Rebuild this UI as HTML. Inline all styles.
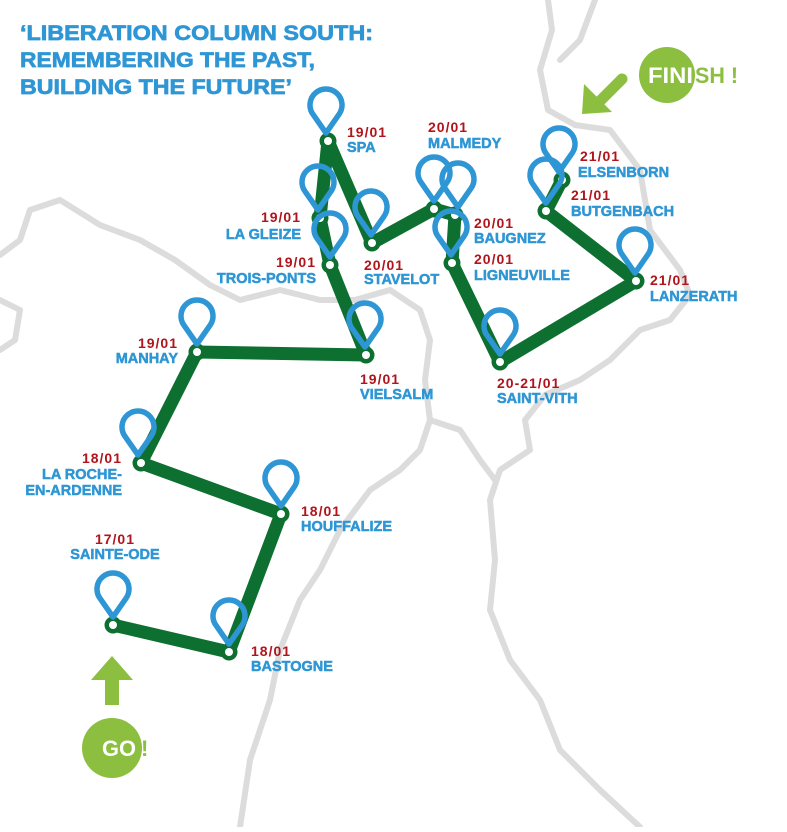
<!DOCTYPE html>
<html><head><meta charset="utf-8"><style>
body{margin:0;background:#fff;width:787px;height:827px;overflow:hidden}
text{font-family:"Liberation Sans",sans-serif;font-weight:bold}
.d{fill:#b0141c;font-size:14px;letter-spacing:1px}
.n{fill:#2e96d4;font-size:14.5px;stroke:#2e96d4;stroke-width:0.5}
</style></head><body>
<svg width="787" height="827" viewBox="0 0 787 827" xmlns="http://www.w3.org/2000/svg">
<defs>
<path id="pin" d="M0,-8 L-13.1,-26.8 A16,16 0 1 1 13.1,-26.8 Z" fill="none" stroke="#2e96d4" stroke-width="5.5" stroke-linejoin="round"/>
<g id="nd"><circle r="8.5" fill="#0e7030"/><circle r="4" fill="#fff"/></g>
</defs>
<g fill="none" stroke="#dcdcdc" stroke-width="6" stroke-linejoin="round" stroke-linecap="round">
<path d="M548,0 L552,30 L540,70 L548,110 L575,125 L610,130 L640,170 L650,230 L680,270 L690,295 L670,320 L640,330 L610,360 L580,380 L545,395 L525,420 L530,450 L500,470 L490,500 L495,560 L490,610 L510,660 L540,700 L560,750 L600,790 L640,827"/>
<path d="M595,0 L580,40 L560,60"/>
<path d="M0,255 L20,240 L30,210 L60,200 L100,225 L140,240 L175,260 L210,285 L240,300 L280,290 L320,300 L355,300 L390,290 L420,310 L430,340 L425,380 L430,420 L420,450 L400,470 L370,490 L340,530 L320,570 L300,600 L280,650 L270,700 L250,760 L240,827"/>
<path d="M430,420 L460,430 L480,460 L495,480"/>
<path d="M0,300 L20,310 L15,340 L0,350"/>
</g>
<g fill="none" stroke="#0e7030" stroke-width="13" stroke-linejoin="round" stroke-linecap="round">
<polyline points="113,625 229,652 281,514 141,463 197,352 366,355 330,265 320,218 328,141 372,243 434,209 455,215 452,263 500,362 636,281 546,211 562,180"/>
</g>
<g>
<use href="#nd" x="113" y="625"/><use href="#nd" x="229" y="652"/><use href="#nd" x="281" y="514"/><use href="#nd" x="141" y="463"/><use href="#nd" x="197" y="352"/><use href="#nd" x="366" y="355"/><use href="#nd" x="330" y="265"/><use href="#nd" x="320" y="218"/><use href="#nd" x="328" y="141"/><use href="#nd" x="372" y="243"/><use href="#nd" x="434" y="209"/><use href="#nd" x="455" y="215"/><use href="#nd" x="452" y="263"/><use href="#nd" x="500" y="362"/><use href="#nd" x="636" y="281"/><use href="#nd" x="546" y="211"/><use href="#nd" x="562" y="180"/>
</g>
<g>
<use href="#pin" x="113" y="625"/><use href="#pin" x="229" y="652"/><use href="#pin" x="281" y="514"/><use href="#pin" x="138" y="463"/><use href="#pin" x="197" y="352"/><use href="#pin" x="365" y="355"/><use href="#pin" x="330" y="265"/><use href="#pin" x="318" y="218"/><use href="#pin" x="326" y="141"/><use href="#pin" x="371" y="243"/><use href="#pin" x="434" y="209"/><use href="#pin" x="458" y="215"/><use href="#pin" x="451" y="263"/><use href="#pin" x="500" y="362"/><use href="#pin" x="635" y="281"/><use href="#pin" x="546" y="211"/><use href="#pin" x="559" y="180"/>
</g>
<g fill="#2e96d4" stroke="#2e96d4" stroke-width="0.7" style="font-size:21.5px" lengthAdjust="spacingAndGlyphs">
<text x="20" y="40" textLength="353" lengthAdjust="spacingAndGlyphs">‘LIBERATION COLUMN SOUTH:</text>
<text x="20" y="67" textLength="295" lengthAdjust="spacingAndGlyphs">REMEMBERING THE PAST,</text>
<text x="20" y="94" textLength="272" lengthAdjust="spacingAndGlyphs">BUILDING THE FUTURE’</text>
</g>
<text class="d" x="347" y="137">19/01</text><text class="n" x="347" y="152">SPA</text>
<text class="d" x="428" y="132">20/01</text><text class="n" x="428" y="148">MALMEDY</text>
<text class="d" x="580" y="161">21/01</text><text class="n" x="578" y="177">ELSENBORN</text>
<text class="d" x="571" y="200">21/01</text><text class="n" x="571" y="216">BUTGENBACH</text>
<text class="d" x="301" y="222" text-anchor="end">19/01</text><text class="n" x="301" y="239" text-anchor="end">LA GLEIZE</text>
<text class="d" x="474" y="228">20/01</text><text class="n" x="474" y="243">BAUGNEZ</text>
<text class="d" x="316" y="267" text-anchor="end">19/01</text><text class="n" x="316" y="283" text-anchor="end">TROIS-PONTS</text>
<text class="d" x="364" y="270">20/01</text><text class="n" x="364" y="284">STAVELOT</text>
<text class="d" x="474" y="264">20/01</text><text class="n" x="474" y="280">LIGNEUVILLE</text>
<text class="d" x="650" y="285">21/01</text><text class="n" x="650" y="301">LANZERATH</text>
<text class="d" x="178" y="348" text-anchor="end">19/01</text><text class="n" x="178" y="363" text-anchor="end">MANHAY</text>
<text class="d" x="360" y="384">19/01</text><text class="n" x="360" y="399">VIELSALM</text>
<text class="d" x="497" y="388">20-21/01</text><text class="n" x="497" y="403">SAINT-VITH</text>
<text class="d" x="122" y="463" text-anchor="end">18/01</text><text class="n" x="122" y="479" text-anchor="end">LA ROCHE-</text><text class="n" x="122" y="495" text-anchor="end">EN-ARDENNE</text>
<text class="d" x="301" y="516">18/01</text><text class="n" x="301" y="531">HOUFFALIZE</text>
<text class="d" x="115" y="544" text-anchor="middle">17/01</text><text class="n" x="115" y="559" text-anchor="middle">SAINTE-ODE</text>
<text class="d" x="251" y="656">18/01</text><text class="n" x="251" y="671">BASTOGNE</text>
<polygon points="112,656 133,680 119,680 119,705 105,705 105,680 91,680" fill="#8cbf3f"/>
<circle cx="112" cy="748" r="30" fill="#8cbf3f"/>
<text x="102" y="756" style="font-size:22px" fill="#fff" textLength="34" lengthAdjust="spacingAndGlyphs">GO</text><text x="141" y="756" style="font-size:22px" fill="#8cbf3f">!</text>
<circle cx="667" cy="75" r="28" fill="#8cbf3f"/>
<text x="648" y="83" style="font-size:22px" fill="#fff" textLength="45" lengthAdjust="spacingAndGlyphs">FINI</text><text x="695" y="83" style="font-size:22px" fill="#8cbf3f" textLength="43" lengthAdjust="spacingAndGlyphs">SH !</text>
<g stroke="#8cbf3f" stroke-width="11" stroke-linecap="round"><line x1="622" y1="79" x2="598" y2="103"/></g>
<polygon points="582,114 584,84 612,112" fill="#8cbf3f"/>
</svg>
</body></html>
